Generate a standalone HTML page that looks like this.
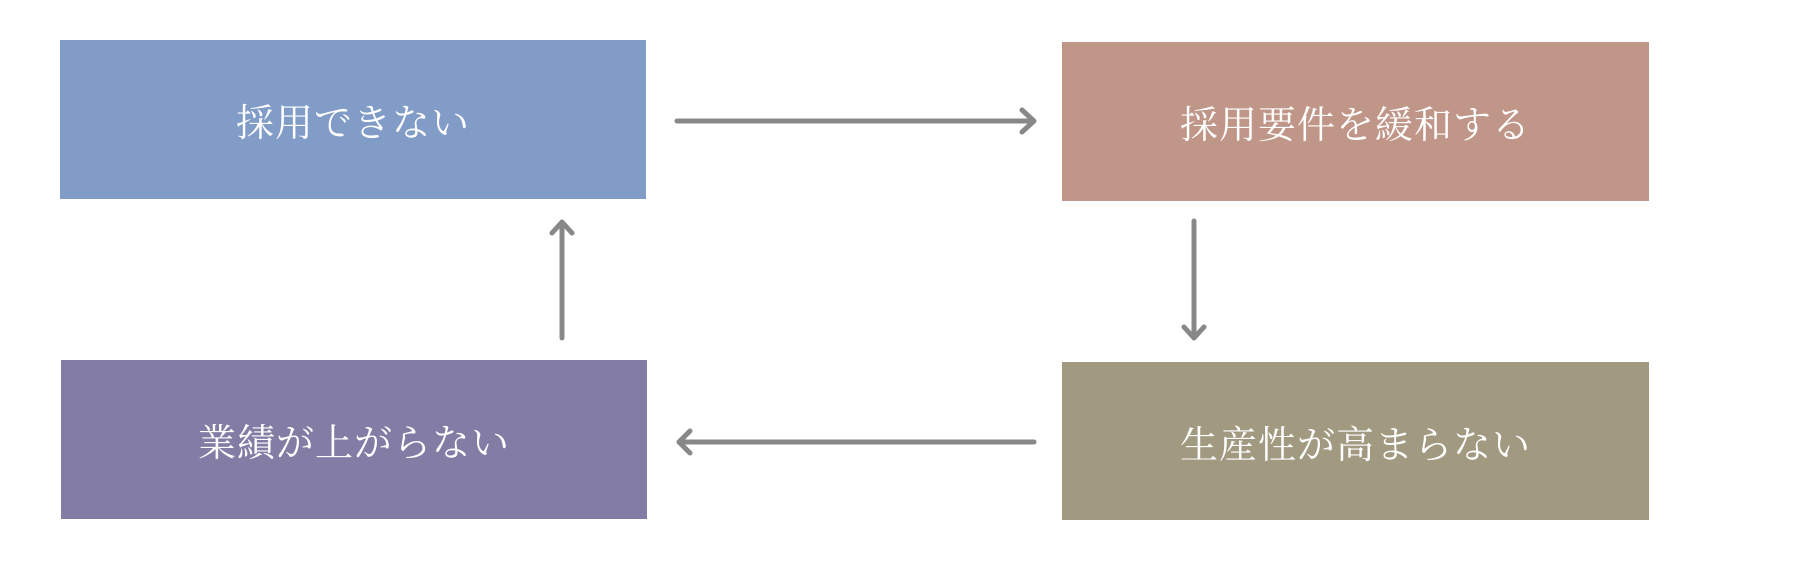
<!DOCTYPE html>
<html><head><meta charset="utf-8"><style>
body{margin:0;width:1800px;height:585px;background:#fff;position:relative;overflow:hidden}
.b{position:absolute;display:flex;align-items:center;justify-content:center;color:#fff;font-family:"Liberation Serif","Noto Serif CJK SC",serif;font-size:38px;letter-spacing:1px}
svg{position:absolute;left:0;top:0}
</style></head><body>
<div class="b" style="left:60px;top:40px;width:586px;height:159px;background:#829cc8">採用できない</div>
<div class="b" style="left:1062px;top:42px;width:587px;height:159px;background:#bf9688">採用要件を緩和する</div>
<div class="b" style="left:61px;top:360px;width:586px;height:159px;background:#837ca5">業績が上がらない</div>
<div class="b" style="left:1062px;top:362px;width:587px;height:158px;background:#a19a81">生産性が高まらない</div>
<svg width="1800" height="585">
<g stroke="#888" stroke-width="5" fill="none" stroke-linecap="round" stroke-linejoin="round">
<line x1="677" y1="121" x2="1033" y2="121"/><polyline points="1022,110 1034,121 1022,132"/>
<line x1="1194" y1="221" x2="1194" y2="337"/><polyline points="1184,327 1194,338 1204,327"/>
<line x1="562" y1="338" x2="562" y2="223"/><polyline points="552,233 562,222 572,233"/>
<line x1="1034" y1="442" x2="679" y2="442"/><polyline points="690,431 679,442 690,453"/>
</g></svg>
</body></html>
